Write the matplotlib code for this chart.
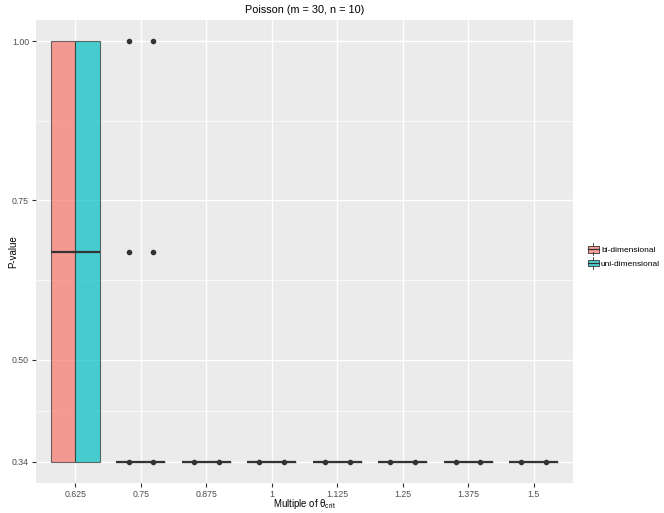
import numpy as np
import matplotlib
matplotlib.use('Agg')
import matplotlib.pyplot as plt
from matplotlib.patches import Rectangle
from matplotlib.lines import Line2D
from matplotlib.legend_handler import HandlerBase

plt.rcParams['font.family'] = ['Liberation Sans', 'DejaVu Sans']
plt.rcParams['mathtext.fontset'] = 'custom'
plt.rcParams['mathtext.rm'] = 'Liberation Sans'
plt.rcParams['mathtext.it'] = 'Liberation Sans'

# --- data ---
groups = ['0.625', '0.75', '0.875', '1', '1.125', '1.25', '1.375', '1.5']
series = ['bi-dimensional', 'uni-dimensional']
colors = ['#F8766D', '#00BFC4']

# box stats per group (same for both series)
q1 = [0.34, 0.34, 0.34, 0.34, 0.34, 0.34, 0.34, 0.34]
med = [0.67, 0.34, 0.34, 0.34, 0.34, 0.34, 0.34, 0.34]
q3 = [1.00, 0.34, 0.34, 0.34, 0.34, 0.34, 0.34, 0.34]
whislo = [0.34, 0.34, 0.34, 0.34, 0.34, 0.34, 0.34, 0.34]
whishi = [1.00, 0.34, 0.34, 0.34, 0.34, 0.34, 0.34, 0.34]
outliers = [[], [0.34, 0.67, 1.00], [0.34], [0.34], [0.34], [0.34], [0.34], [0.34]]

yticks = [0.34, 0.50, 0.75, 1.00]
yminor = [0.42, 0.625, 0.875]

# --- figure ---
fig = plt.figure(figsize=(6.64, 5.13), dpi=100)
W, H = 664, 513
ax = fig.add_axes([36 / W, 1 - 483 / H, (573 - 36) / W, (483 - 20) / H])
ax.set_facecolor('#EBEBEB')
for s in ax.spines.values():
    s.set_visible(False)

x = np.arange(len(groups))
width = 0.375
for k, (name, col) in enumerate(zip(series, colors)):
    stats = []
    for i in range(len(groups)):
        stats.append(dict(q1=q1[i], med=med[i], q3=q3[i], whislo=whislo[i],
                          whishi=whishi[i], fliers=outliers[i]))
    pos = x + (k - 0.5) * width
    ax.bxp(stats, positions=pos, widths=width, patch_artist=True,
           showcaps=False, manage_ticks=False,
           boxprops=dict(facecolor=col, alpha=0.7, edgecolor='#333333', linewidth=0.8),
           whiskerprops=dict(color='#333333', linewidth=0.8),
           medianprops=dict(color='#333333', linewidth=1.6),
           flierprops=dict(marker='o', markersize=3.0, markerfacecolor='#333333',
                           markeredgecolor='#333333'),
           zorder=3)

ax.set_xlim(-0.6, len(groups) - 0.4)
ax.set_ylim(0.34 - 0.033, 1.00 + 0.033)
ax.set_xticks(x)
ax.set_xticklabels(groups)
ax.set_yticks(yticks)
ax.set_yticklabels(['%.2f' % v for v in yticks])
ax.set_yticks(yminor, minor=True)
ax.tick_params(axis='both', which='major', length=3, width=0.8, color='#333333',
               labelsize=6.3, labelcolor='#4D4D4D', pad=2)
ax.tick_params(axis='y', which='minor', length=0)
ax.grid(True, which='major', color='white', linewidth=1.0, zorder=0)
ax.grid(True, which='minor', axis='y', color='white', linewidth=0.5, zorder=0)
ax.set_axisbelow(True)

ax.set_xlabel(r'Multiple of $\theta_{crit}$', fontsize=6.9)
ax.set_ylabel('P-value', fontsize=6.9)
ax.xaxis.set_label_coords(0.5, -(497 - 483) / 463, transform=ax.transAxes)
ax.yaxis.set_label_coords(-(36 - 18) / 537, 0.5, transform=ax.transAxes)
ax.set_title('Poisson (m = 30, n = 10)', fontsize=7.8, pad=5)


class BoxKey(HandlerBase):
    def create_artists(self, legend, orig, xd, yd, w, h, fs, trans):
        col = orig.get_facecolor()
        x0, y0 = -xd, -yd
        cx = x0 + w / 2
        r = Rectangle((x0, y0 + h * 0.2), w, h * 0.6,
                      facecolor=col, edgecolor='#333333', linewidth=0.6, transform=trans)
        l1 = Line2D([cx, cx], [y0, y0 + h * 0.2], color='#333333', lw=0.6, transform=trans)
        l2 = Line2D([cx, cx], [y0 + h * 0.8, y0 + h], color='#333333', lw=0.6, transform=trans)
        l3 = Line2D([x0, x0 + w], [y0 + h / 2, y0 + h / 2], color='#333333',
                    lw=0.9, transform=trans)
        return [r, l1, l2, l3]


handles = [Rectangle((0, 0), 1, 1, facecolor=c, alpha=0.7) for c in colors]
fig.legend(handles, series, handler_map={Rectangle: BoxKey()},
           loc='center left', bbox_to_anchor=(588 / W, 1 - 256 / H),
           frameon=False, fontsize=6.0, handlelength=1.3, handleheight=1.7,
           handletextpad=0.25, labelspacing=0.3, borderaxespad=0, borderpad=0)

fig.savefig('out.png', dpi=100)
